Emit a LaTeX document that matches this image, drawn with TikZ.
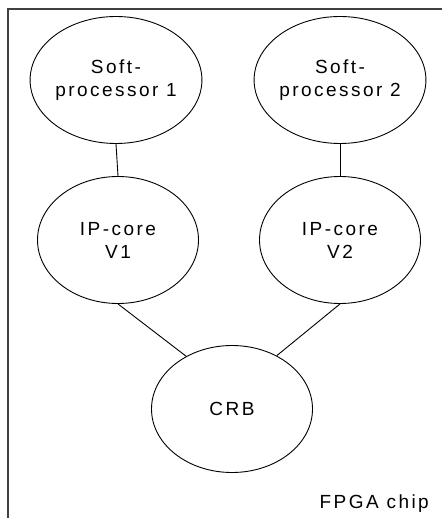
\documentclass[tikz,border=0pt]{standalone}
\usepackage{fontspec}
\setmainfont{Liberation Sans}[LetterSpace=13]
\usetikzlibrary{shapes.geometric}
\begin{document}
\begin{tikzpicture}[x=1pt,y=-1pt,
  blob/.style={ellipse,draw=black,line width=0.9pt,minimum width=161pt,minimum height=127pt,inner sep=0pt,align=center,font=\fontsize{19}{23}\selectfont},
  link/.style={draw=black,line width=0.9pt},
  frame/.style={draw=black!75,line width=1.4pt}]
\useasboundingbox (0,0) rectangle (441,518);
\coordinate (fb) at (8,520);
\coordinate (fc) at (8,9);
\coordinate (fr) at (443,9);
\draw[frame] (fb) -- (fc) -- (fr);
\node[blob] (s1) at (116,80) {Soft-\\processor 1};
\node[blob] (s2) at (340,80) {Soft-\\processor 2};
\node[blob] (ip1) at (118,240) {IP-core\\V1};
\node[blob] (ip2) at (340,240) {IP-core\\V2};
\node[blob] (crb) at (232,409) {CRB};
\draw[link] (s1.south) -- (ip1.north);
\draw[link] (s2.south) -- (ip2.north);
\draw[link] (ip1.south) -- (crb.131);
\draw[link] (ip2.south) -- (crb.50);
\node[anchor=base east,inner sep=0pt,font=\fontsize{19}{23}\selectfont] (lbl) at (429,508) {FPGA chip};
\end{tikzpicture}
\end{document}
